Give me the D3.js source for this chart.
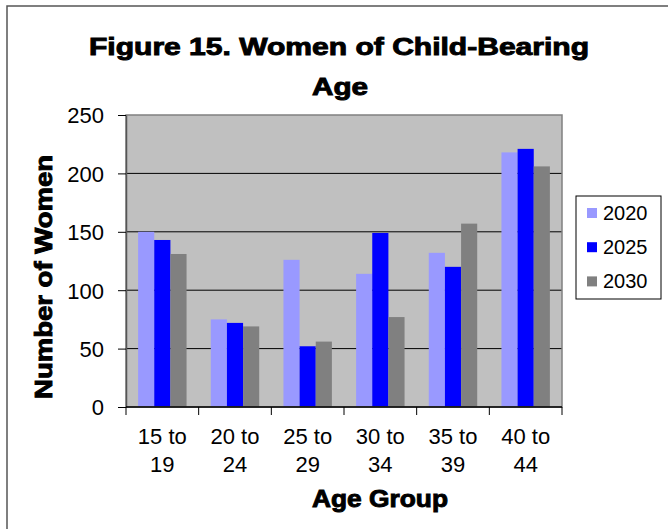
<!DOCTYPE html>
<html lang="en">
<head>
<meta charset="UTF-8">
<script src="https://d3js.org/d3.v7.min.js"></script>
<style>
    body {
        margin: 0;
        background-color: #fff;
        font-family: "Liberation Sans", Arial, sans-serif;
    }
    .tick text {
        font-size: 22px;
        fill: #000;
    }
    .bold-label {
        font-weight: bold;
        fill: #000;
        stroke: #000;
        stroke-width: 0.9px;
    }
    .legend-label {
        font-size: 20px;
    }
</style>
</head>
<body>
<div id="chart"></div>
<script>
    // data
    const ageGroups = ["15 to 19", "20 to 24", "25 to 29", "30 to 34", "35 to 39", "40 to 44"];
    const years = ["2020", "2025", "2030"];
    const women2020 = [150, 75, 126, 114, 132, 218];
    const women2025 = [143, 72, 52, 149, 120, 221];
    const women2030 = [131, 69, 56, 77, 157, 206];
    const yTicks = [0, 50, 100, 150, 200, 250];
    const colors = ["#9999ff", "#0000ff", "#808080"];

    const seriesValues = [women2020, women2025, women2030];
    const rows = ageGroups.map((g, i) => ({
        group: g,
        values: years.map((yr, j) => ({ year: yr, value: seriesValues[j][i] }))
    }));

    const W = 668, H = 529;
    const margin = {top: 115, right: 106, bottom: 122, left: 126};
    const width = W - margin.left - margin.right;
    const height = H - margin.top - margin.bottom;

    const svg = d3.select("#chart").append("svg")
        .attr("width", W)
        .attr("height", H);

    // outer chart frame
    svg.append("rect")
        .attr("x", 7).attr("y", 6)
        .attr("width", 700).attr("height", 600)
        .attr("fill", "none")
        .attr("stroke", "#555")
        .attr("stroke-width", 1.5);

    // title
    const title = svg.append("text")
        .attr("class", "bold-label")
        .attr("text-anchor", "middle")
        .style("font-size", "23px");
    title.append("tspan").attr("x", 339).attr("y", 55)
        .attr("textLength", 500).attr("lengthAdjust", "spacingAndGlyphs")
        .text("Figure 15. Women of Child-Bearing");
    title.append("tspan").attr("x", 340).attr("y", 95)
        .attr("textLength", 56).attr("lengthAdjust", "spacingAndGlyphs")
        .text("Age");

    const g = svg.append("g")
        .attr("transform", `translate(${margin.left},${margin.top})`);

    const x0 = d3.scaleBand()
        .domain(ageGroups)
        .range([0, width])
        .padding(0);

    const x1 = d3.scaleBand()
        .domain(years)
        .range([0, x0.bandwidth()])
        .paddingInner(0)
        .paddingOuter(0.75);

    const y = d3.scaleLinear()
        .domain([0, 250])
        .range([height, 0]);

    const color = d3.scaleOrdinal().domain(years).range(colors);

    // plot background
    g.append("rect")
        .attr("width", width)
        .attr("height", height)
        .attr("fill", "#c0c0c0");

    // gridlines
    g.selectAll(".grid")
        .data(yTicks.filter(t => t > 0 && t < 250))
        .enter()
        .append("line")
        .attr("x1", 0).attr("x2", width)
        .attr("y1", d => y(d)).attr("y2", d => y(d))
        .attr("stroke", "#000")
        .attr("stroke-width", 1);

    // bars
    g.selectAll(".group")
        .data(rows)
        .enter()
        .append("g")
        .attr("transform", d => `translate(${x0(d.group)},0)`)
        .selectAll("rect")
        .data(d => d.values)
        .enter()
        .append("rect")
        .attr("x", d => x1(d.year))
        .attr("y", d => y(d.value))
        .attr("width", x1.bandwidth())
        .attr("height", d => height - y(d.value))
        .attr("fill", d => color(d.year));

    // plot border
    g.append("rect")
        .attr("width", width)
        .attr("height", height)
        .attr("fill", "none")
        .attr("stroke", "#808080")
        .attr("stroke-width", 1.5);

    // y axis
    const yAxis = g.append("g")
        .call(d3.axisLeft(y).tickValues(yTicks).tickSize(8).tickPadding(14).tickSizeOuter(0));
    yAxis.select(".domain").attr("stroke", "#555").attr("stroke-width", 1.5);
    yAxis.selectAll(".tick line").attr("stroke", "#000");
    yAxis.selectAll(".tick text").attr("dy", "0.36em");

    // x axis: line, ticks between groups, two-line labels
    g.append("line")
        .attr("x1", 0).attr("x2", width)
        .attr("y1", height).attr("y2", height)
        .attr("stroke", "#000")
        .attr("stroke-width", 1.5);

    const boundaries = ageGroups.map(d => x0(d)).concat([width]);
    g.selectAll(".xtick")
        .data(boundaries)
        .enter()
        .append("line")
        .attr("x1", d => d).attr("x2", d => d)
        .attr("y1", height).attr("y2", height + 8)
        .attr("stroke", "#000");

    const xLabels = g.selectAll(".xlabel")
        .data(ageGroups)
        .enter()
        .append("text")
        .attr("class", "tick")
        .attr("text-anchor", "middle")
        .style("font-size", "22px");
    xLabels.append("tspan")
        .attr("x", d => x0(d) + x0.bandwidth() / 2)
        .attr("y", height + 37)
        .text(d => d.split(" ").slice(0, 2).join(" "));
    xLabels.append("tspan")
        .attr("x", d => x0(d) + x0.bandwidth() / 2)
        .attr("y", height + 65)
        .text(d => d.split(" ")[2]);

    // axis titles
    svg.append("text")
        .attr("class", "bold-label")
        .attr("text-anchor", "middle")
        .attr("x", 380)
        .attr("y", 507)
        .attr("textLength", 136).attr("lengthAdjust", "spacingAndGlyphs")
        .style("font-size", "23px")
        .text("Age Group");

    svg.append("text")
        .attr("class", "bold-label")
        .attr("text-anchor", "middle")
        .attr("transform", "translate(52,277) rotate(-90)")
        .attr("textLength", 244).attr("lengthAdjust", "spacingAndGlyphs")
        .style("font-size", "23px")
        .text("Number of Women");

    // legend
    const legend = svg.append("g")
        .attr("transform", "translate(576,196)");
    legend.append("rect")
        .attr("width", 85)
        .attr("height", 103)
        .attr("fill", "#fff")
        .attr("stroke", "#000")
        .attr("stroke-width", 1);
    const items = legend.selectAll(".item")
        .data(years)
        .enter()
        .append("g")
        .attr("transform", (d, i) => `translate(0,${i * 34.2})`);
    items.append("rect")
        .attr("x", 11).attr("y", 12)
        .attr("width", 10).attr("height", 10)
        .attr("fill", d => color(d));
    items.append("text")
        .attr("class", "legend-label")
        .attr("x", 27).attr("y", 23.5)
        .text(d => d);
</script>
</body>
</html>
